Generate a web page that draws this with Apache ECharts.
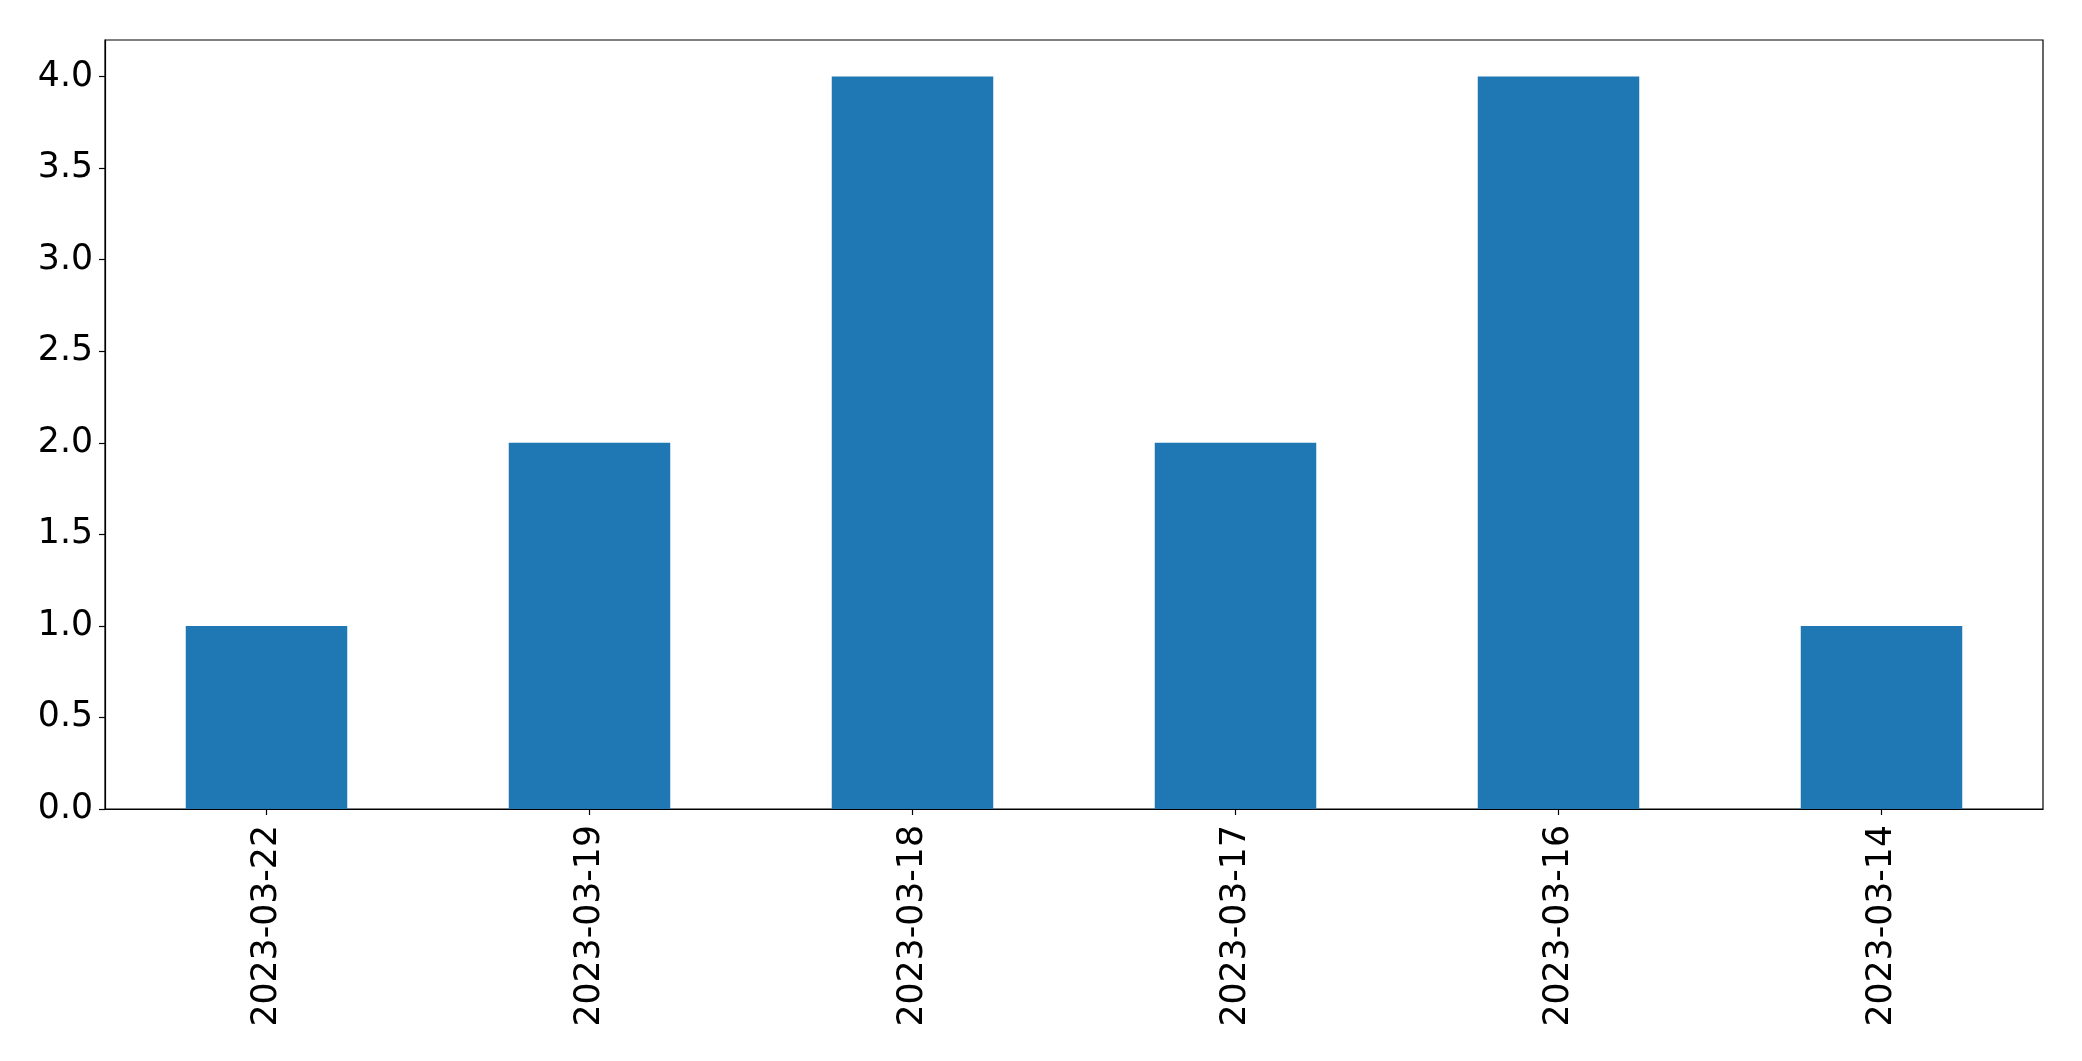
<!DOCTYPE html>
<html>
<head>
<meta charset="utf-8">
<script src="https://cdn.jsdelivr.net/npm/echarts@6/dist/echarts.min.js"></script>
<style>
html,body{margin:0;padding:0;background:#fff;}
#chart{width:2082px;height:1061px;}
</style>
</head>
<body>
<div id="chart"></div>
<script>
const categories = ['2023-03-22', '2023-03-19', '2023-03-18', '2023-03-17', '2023-03-16', '2023-03-14'];
const counts = [1, 2, 4, 2, 4, 1];
const yTickValues = [0, 0.5, 1, 1.5, 2, 2.5, 3, 3.5, 4];

const chart = echarts.init(document.getElementById('chart'));
chart.setOption({
  animation: false,
  backgroundColor: '#ffffff',
  textStyle: { fontFamily: 'DejaVu Sans' },
  grid: {
    left: 105, right: 39, top: 40, bottom: 252,
    show: true, borderColor: '#000', borderWidth: 1.2, backgroundColor: 'transparent'
  },
  xAxis: {
    type: 'category',
    data: categories,
    boundaryGap: true,
    axisLine: { show: true, lineStyle: { color: '#000', width: 1.2 } },
    axisTick: { show: true, alignWithLabel: true, length: 6, inside: false, lineStyle: { color: '#000', width: 1.2 } },
    axisLabel: { rotate: 90, margin: 16, fontSize: 34.7, color: '#000', fontFamily: 'DejaVu Sans', interval: 0 },
    splitLine: { show: false }
  },
  yAxis: {
    type: 'value',
    min: 0,
    max: 4.2,
    interval: 0.5,
    axisLine: { show: true, lineStyle: { color: '#000', width: 1.2 } },
    axisTick: { show: true, length: 6, lineStyle: { color: '#000', width: 1.2 } },
    axisLabel: {
      fontSize: 34.7, color: '#000', fontFamily: 'DejaVu Sans', margin: 12,
      showMaxLabel: false,
      formatter: function (v) {
        return yTickValues.some(t => Math.abs(t - v) < 1e-9) ? v.toFixed(1) : '';
      }
    },
    splitLine: { show: false }
  },
  series: [{
    type: 'bar',
    data: counts,
    barWidth: '50%',
    itemStyle: { color: '#1f77b4' }
  }]
});
</script>
</body>
</html>
